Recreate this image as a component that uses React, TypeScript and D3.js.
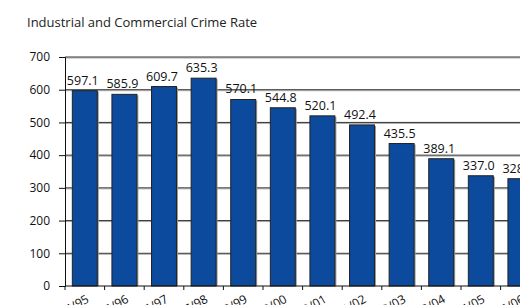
import React, { useEffect, useRef } from 'react'
import * as d3 from 'd3'

const years = [
  '1994/95', '1995/96', '1996/97', '1997/98', '1998/99', '1999/00',
  '2000/01', '2001/02', '2002/03', '2003/04', '2004/05', '2005/06',
]
const crimeRate = [597.1, 585.9, 609.7, 635.3, 570.1, 544.8, 520.1, 492.4, 435.5, 389.1, 337.0, 328.0]
const yTicks = [0, 100, 200, 300, 400, 500, 600, 700]

const title = 'Industrial and Commercial Crime Rate'
const font = '"Open Sans", "DejaVu Sans", sans-serif'

export default function App() {
  const svgRef = useRef<SVGSVGElement>(null)

  useEffect(() => {
    if (!svgRef.current) return
    const svg = d3.select(svgRef.current)
    svg.selectAll('*').remove() // Clear previous renders

    const left = 65
    const top = 57
    const bottom = 286

    const x = d3.scaleBand<string>().domain(years).range([left, 540.2]).paddingInner(0.37).paddingOuter(0.185)
    const y = d3.scaleLinear().domain([0, 700]).range([bottom, top])

    svg.append('rect').attr('width', 520).attr('height', 305).attr('fill', '#fff')

    // Title
    svg
      .append('text')
      .attr('x', 27)
      .attr('y', 27)
      .attr('font-family', font)
      .attr('font-size', '13px')
      .attr('fill', '#222')
      .text(title)

    // Gridlines (with a soft grey shadow underneath)
    const grid = svg.append('g')
    yTicks.filter((t) => t > 0).forEach((t) => {
      grid
        .append('line')
        .attr('x1', left)
        .attr('x2', 520)
        .attr('y1', y(t) + 1)
        .attr('y2', y(t) + 1)
        .attr('stroke', '#aaa')
        .attr('stroke-width', 1)
      grid
        .append('line')
        .attr('x1', left)
        .attr('x2', 520)
        .attr('y1', y(t))
        .attr('y2', y(t))
        .attr('stroke', '#333')
        .attr('stroke-width', 1)
    })

    // Bars
    const bars = svg.append('g')
    years.forEach((yr, i) => {
      const bx = x(yr)!
      const by = y(crimeRate[i])
      // shadow
      bars
        .append('rect')
        .attr('x', bx + 1.5)
        .attr('y', by + 1)
        .attr('width', x.bandwidth())
        .attr('height', bottom - by - 1)
        .attr('fill', '#999')
      bars
        .append('rect')
        .attr('x', bx)
        .attr('y', by)
        .attr('width', x.bandwidth())
        .attr('height', bottom - by)
        .attr('fill', '#0c4a9d')
        .attr('stroke', '#222')
        .attr('stroke-width', 1)

      // value label
      bars
        .append('text')
        .attr('x', bx + x.bandwidth() / 2 - 2)
        .attr('y', by - 6)
        .attr('text-anchor', 'middle')
        .attr('font-family', font)
        .attr('font-size', '12.5px')
        .attr('fill', '#111')
        .text(crimeRate[i].toFixed(1))
    })

    // Axes
    const yAxis = svg
      .append('g')
      .attr('transform', `translate(${left},0)`)
      .call(d3.axisLeft(y).tickValues(yTicks).tickSize(6).tickPadding(9))
    yAxis.select('.domain').attr('stroke', '#111')
    yAxis.selectAll('.tick line').attr('stroke', '#111')
    yAxis
      .selectAll('.tick text')
      .attr('font-family', font)
      .attr('font-size', '12px')
      .attr('fill', '#111')

    svg
      .append('line')
      .attr('x1', left)
      .attr('x2', 520)
      .attr('y1', bottom)
      .attr('y2', bottom)
      .attr('stroke', '#111')
      .attr('stroke-width', 1.2)

    // category ticks between bars
    const step = x.step()
    const xt = svg.append('g')
    d3.range(0, years.length + 1).forEach((i) => {
      const tx = left + i * step
      xt.append('line')
        .attr('x1', tx)
        .attr('x2', tx)
        .attr('y1', bottom)
        .attr('y2', bottom + 4)
        .attr('stroke', '#111')
    })

    // category labels, rotated
    years.forEach((yr) => {
      const cx = x(yr)! + x.bandwidth() / 2
      svg
        .append('text')
        .attr('transform', `translate(${cx + 5},${301.5}) rotate(-30)`)
        .attr('text-anchor', 'end')
        .attr('font-family', font)
        .attr('font-size', '12px')
        .attr('fill', '#111')
        .text(yr)
    })
  }, [])

  return (
    <svg
      ref={svgRef}
      width={520}
      height={305}
      style={{ position: 'absolute', left: 0, top: 0, display: 'block' }}
    ></svg>
  )
}
